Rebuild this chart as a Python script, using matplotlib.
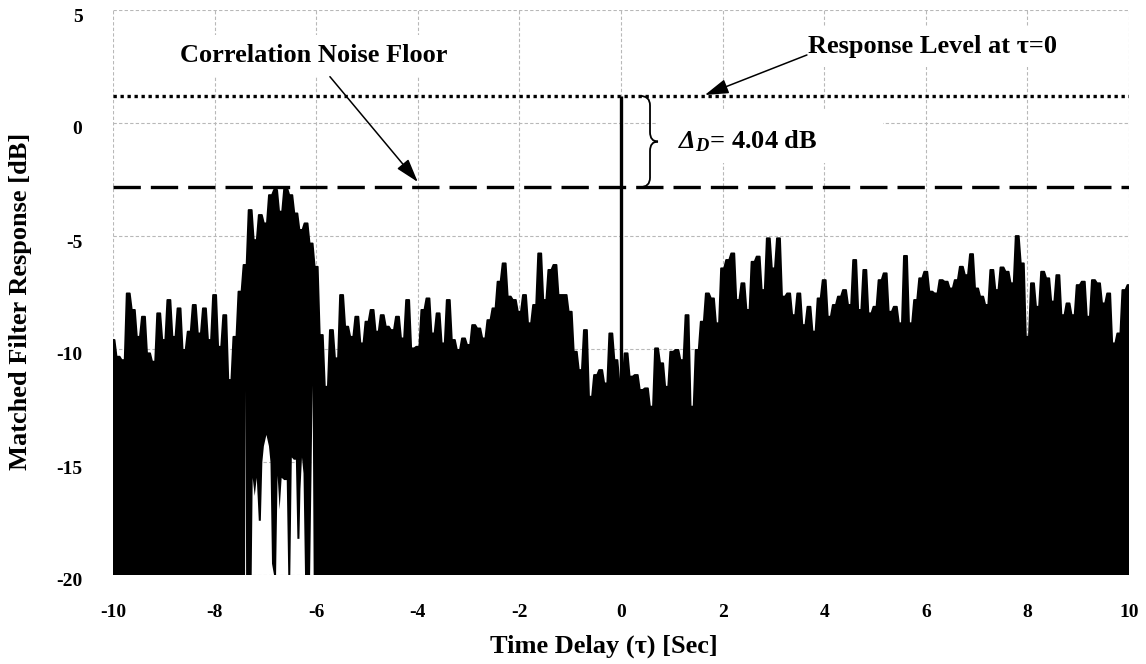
import numpy as np
import matplotlib
matplotlib.use('Agg')
import matplotlib.pyplot as plt
from matplotlib.path import Path
from matplotlib.patches import PathPatch, Rectangle
import matplotlib.transforms as mtransforms

plt.rcParams['font.family'] = ['Liberation Serif', 'DejaVu Serif']
plt.rcParams['font.weight'] = 'bold'
plt.rcParams['mathtext.fontset'] = 'custom'
plt.rcParams['mathtext.rm'] = 'Liberation Serif:italic:bold'
plt.rcParams['mathtext.it'] = 'Liberation Serif:italic:bold'
plt.rcParams['mathtext.bf'] = 'Liberation Serif:bold'

# ---------------- data ----------------
tau_start = -10.0
tau_step = 0.1
# upper envelope of the matched filter response [dB], one value per 0.1 s
upper_db = [
    -9.60,                                                                  # -10.0
    -10.34, -10.49, -7.54, -8.27, -9.46, -8.57, -10.19, -10.56, -8.42, -9.60,  # -9.9 .. -9.0
    -7.83, -9.46, -8.20, -10.04, -9.23, -8.05, -9.31, -8.20, -9.60, -7.61,     # -8.9 .. -8.0
    -9.90, -8.50, -11.37, -9.46, -7.46, -6.28, -3.85, -5.18, -4.07, -4.44,     # -7.9 .. -7.0
    -3.19, -2.96, -3.92, -2.89, -3.19, -4.00, -4.73, -4.44, -5.33, -6.36,      # -6.9 .. -6.0
    -9.38, -11.67, -9.16, -10.41, -7.61, -9.01, -9.46, -8.57, -9.75, -8.79,    # -5.9 .. -5.0
    -8.27, -9.23, -8.50, -9.01, -9.16, -8.57, -9.53, -7.83, -9.97, -9.90,      # -4.9 .. -4.0
    -8.27, -7.76, -9.31, -8.42, -9.75, -7.83, -9.60, -10.04, -9.53, -9.82,     # -3.9 .. -3.0
    -8.94, -9.09, -9.53, -8.72, -8.20, -7.02, -6.21, -7.68, -7.83, -8.35,      # -2.9 .. -2.0
    -7.61, -8.86, -8.05, -5.77, -7.83, -6.50, -6.28, -7.61, -7.61, -8.35,      # -1.9 .. -1.0
    -10.12, -10.93, -9.16, -12.11, -11.15, -10.93, -11.52, -9.31, -10.49, -11.52,  # -0.9 .. 0.0
    -10.19, -11.22, -11.15, -11.81, -11.74, -12.55, -9.97, -10.63, -11.67, -10.12,  # 0.1 .. 1.0
    -10.04, -10.49, -8.50, -12.55, -10.04, -8.79, -7.54, -7.76, -8.86, -6.43,  # 1.1 .. 2.0
    -6.06, -5.77, -7.83, -7.09, -8.27, -6.14, -5.91, -7.39, -5.10, -6.43,      # 2.1 .. 3.0
    -5.10, -7.68, -7.54, -8.50, -7.54, -8.94, -8.13, -9.23, -7.76, -6.95,      # 3.1 .. 4.0
    -8.57, -8.05, -7.68, -7.39, -8.05, -6.06, -8.27, -6.50, -8.42, -8.13,      # 4.1 .. 5.0
    -6.95, -6.65, -8.35, -8.13, -8.86, -5.88, -8.86, -7.83, -6.87, -6.58,      # 5.1 .. 6.0
    -7.46, -7.54, -6.95, -7.02, -7.32, -6.95, -6.36, -6.73, -5.80, -7.32,      # 6.1 .. 7.0
    -7.68, -8.05, -6.50, -7.39, -6.39, -6.58, -7.09, -5.00, -6.21, -9.46,      # 7.1 .. 8.0
    -7.09, -8.13, -6.58, -6.87, -7.90, -6.73, -8.50, -7.98, -8.50, -7.17,      # 8.1 .. 9.0
    -7.02, -8.57, -6.95, -7.09, -7.98, -7.54, -9.75, -9.31, -7.39, -7.17,      # 9.1 .. 10.0
]
# lower envelope where it lifts off the -20 dB floor (around tau = -7 s)
gap_tau = [-7.40, -7.39, -7.38, -7.27, -7.25, -7.21, -7.17, -7.13, -7.09, -7.06,
           -7.03, -6.98, -6.93, -6.90, -6.87, -6.83, -6.79, -6.76, -6.72, -6.68,
           -6.63, -6.58, -6.55, -6.51, -6.48, -6.44, -6.40, -6.37, -6.33, -6.31,
           -6.28, -6.25, -6.22, -6.12, -6.09, -6.07, -6.05]
gap_low_db = [-20.0, -11.8, -20.0, -20.0, -15.7, -16.5, -15.7, -17.6, -17.6, -15.0,
              -14.3, -13.8, -14.3, -15.0, -19.5, -20.0, -20.0, -15.6, -17.1, -15.7,
              -15.8, -15.8, -20.0, -20.0, -14.8, -14.9, -14.9, -18.4, -18.4, -16.2,
              -14.8, -15.5, -20.0, -20.0, -15.1, -11.6, -20.0]

peak_tau = 0.0
peak_db = 1.2            # response level at tau = 0
delta_db = 4.04
noise_floor_db = peak_db - delta_db

x_ticks = [-10, -8, -6, -4, -2, 0, 2, 4, 6, 8, 10]
y_ticks = [-20, -15, -10, -5, 0, 5]
x_min, x_max = -10, 10
y_min, y_max = -20, 5

# ---------------- figure ----------------
W, H = 1146, 664
fig = plt.figure(figsize=(W / 100, H / 100), dpi=100)
ax = fig.add_axes([113 / W, 1 - 575 / H, 1016 / W, 565 / H])
ax.set_xlim(x_min, x_max)
ax.set_ylim(y_min, y_max)
for s in ax.spines.values():
    s.set_visible(False)
ax.set_xticks(x_ticks)
ax.set_yticks(y_ticks)
ax.set_xticklabels([str(v) for v in x_ticks])
ax.set_yticklabels([str(v) for v in y_ticks])
ax.tick_params(axis='both', length=0, labelsize=14)
ax.tick_params(axis='x', pad=21)
ax.tick_params(axis='y', pad=22)
ax.set_axisbelow(True)
ax.grid(True, color='#b8b8b8', linestyle=(0, (3, 2)), linewidth=0.8)

# shift y tick labels slightly downward as in the reference
offset = mtransforms.ScaledTranslation(0, -5 / 100, fig.dpi_scale_trans)
for lab in ax.get_yticklabels():
    lab.set_transform(lab.get_transform() + offset)

# signal: filled envelope drawn as narrow spikes
upper = np.asarray(upper_db)
tau = tau_start + tau_step * np.arange(len(upper))
half = 0.3 * tau_step
top_x = np.clip(np.column_stack([tau - half, tau + half]).ravel(), x_min, x_max)
top_y = np.repeat(upper, 2)
bot_x = np.concatenate([[x_max], np.asarray(gap_tau)[::-1], [x_min]])
bot_y = np.concatenate([[y_min], np.asarray(gap_low_db)[::-1], [y_min]])
ax.fill(np.concatenate([top_x, bot_x]), np.concatenate([top_y, bot_y]),
        color='black', lw=0, zorder=2)
ax.plot(top_x, top_y, color='black', lw=1.3, solid_joinstyle='round',
        solid_capstyle='round', zorder=2)

# main peak at tau = 0
ax.vlines(peak_tau, y_min, peak_db, color='black', lw=2.4, zorder=3)

# reference lines
ax.axhline(peak_db, color='black', lw=2.4, linestyle=(0, (1, 1.1)),
           dash_capstyle='butt', zorder=4)
ax.axhline(noise_floor_db, color='black', lw=2.4, linestyle=(0, (8.2, 3.0)),
           dash_capstyle='butt', zorder=4)

# annotations
ax.text(-8.68, 2.70, 'Correlation Noise Floor', ha='left', va='baseline',
        fontsize=19, fontweight='bold', zorder=5,
        bbox=dict(boxstyle='square,pad=0.35', fc='white', ec='none'))
ax.text(3.68, 3.10, 'Response Level at \u03c4=0', ha='left', va='baseline',
        fontsize=19, fontweight='bold', zorder=5,
        bbox=dict(boxstyle='square,pad=0.35', fc='white', ec='none'))

aprops = dict(arrowstyle='-|>,head_length=1.45,head_width=0.45', color='black',
              lw=1.1, mutation_scale=10, shrinkA=0, shrinkB=0)
ax.annotate('', xy=(-4.0, -2.61), xytext=(-5.73, 2.05), arrowprops=aprops, zorder=6)
ax.annotate('', xy=(1.65, 1.24), xytext=(3.66, 3.01), arrowprops=aprops, zorder=6)

# white box behind the delta label
ax.add_patch(Rectangle((0.536, 0.729), 0.2215, 0.094, transform=ax.transAxes,
                       fc='white', ec='none', zorder=1))
ax.text(1.12, -1.11, r'$\Delta_{D}$= %.2f dB' % delta_db,
        ha='left', va='baseline', fontsize=19, fontweight='bold', zorder=5)

# curly brace between the two levels
xa, xb, xc = 0.374, 0.571, 0.728
top, bot = peak_db, noise_floor_db
mid = (top + bot) / 2
r = 0.42
verts = [(xa, top), (xb, top), (xb, top - r), (xb, mid + r),
         (xb, mid), (xc, mid), (xb, mid), (xb, mid - r),
         (xb, bot + r), (xb, bot), (xa, bot)]
codes = [Path.MOVETO, Path.CURVE3, Path.CURVE3, Path.LINETO,
         Path.CURVE3, Path.CURVE3, Path.CURVE3, Path.CURVE3,
         Path.LINETO, Path.CURVE3, Path.CURVE3]
ax.add_patch(PathPatch(Path(verts, codes), fc='none', ec='black', lw=1.3, zorder=5))

# axis labels
ax.set_xlabel('Time Delay (\u03c4) [Sec]', fontsize=19, fontweight='bold')
ax.set_ylabel('Matched Filter Response [dB]', fontsize=19, fontweight='bold')
ax.xaxis.label.set_va('center')
ax.yaxis.label.set_va('center')
ax.xaxis.set_label_coords(0.483, -0.127)
ax.yaxis.set_label_coords(-0.0915, 0.485)

fig.savefig('out.png', dpi=100)
